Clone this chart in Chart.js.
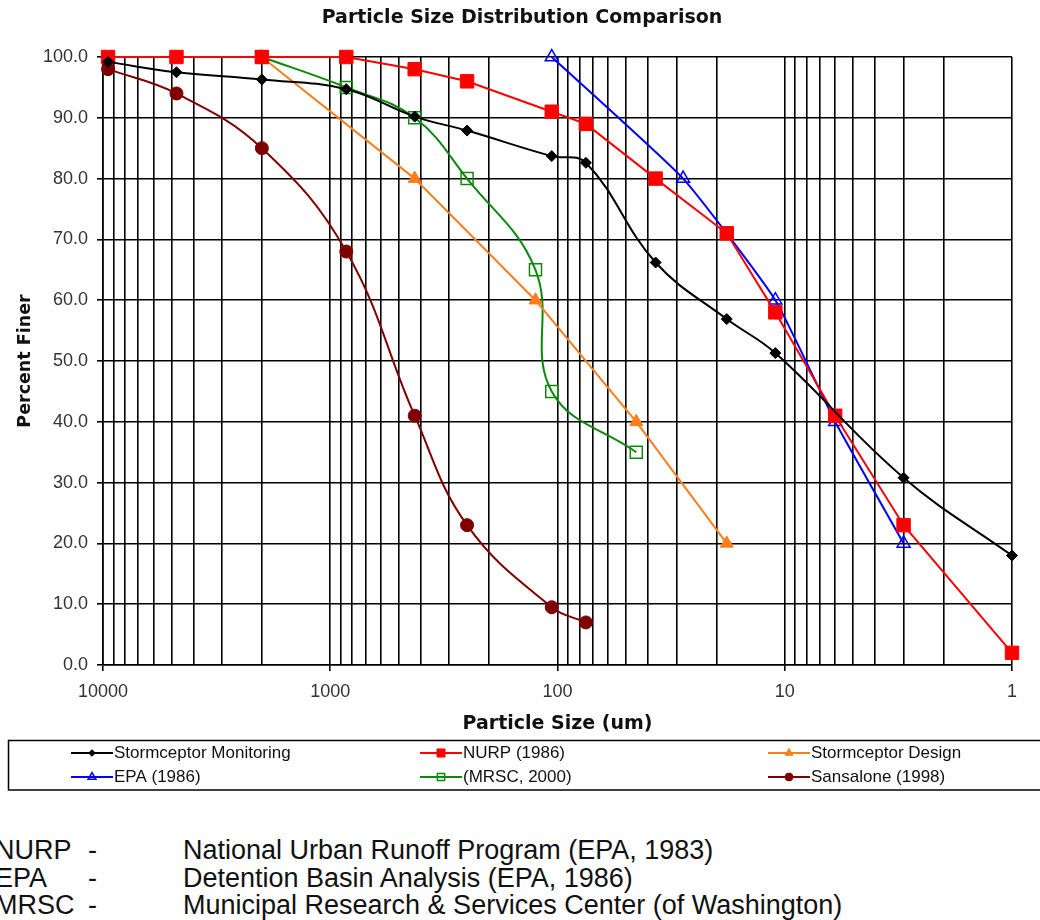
<!DOCTYPE html>
<html>
<head>
<meta charset="utf-8">
<script src="https://cdn.jsdelivr.net/npm/chart.js@4.4.1/dist/chart.umd.min.js"></script>
<style>
  body { margin: 0; background: #fff; width: 1040px; height: 920px; overflow: hidden; position: relative; }
  #chart { position: absolute; left: 0; top: 0; }
  .notes { position: absolute; left: 0; top: 837px; font-family: "Liberation Sans", Arial, sans-serif; font-size: 27px; color: #111; }
  .notes div { position: relative; height: 27.5px; line-height: 27.5px; white-space: nowrap; width: 1040px; }
  .notes span { position: absolute; top: 0; }
</style>
</head>
<body>
<canvas id="chart" width="1040" height="800"></canvas>
<div class="notes" id="notes"></div>
<script>
const chartTitle = 'Particle Size Distribution Comparison';
const sizeLabels = [10000, 1000, 100, 10, 1];

// particle size (um) and percent finer, per source
const monitoringSize = [9500, 4750, 2000, 850, 425, 250, 106, 75, 37, 18, 11, 3, 1];
const monitoringFiner = [99.2, 97.5, 96.3, 94.7, 90.2, 87.9, 83.7, 82.6, 66.2, 56.9, 51.3, 30.8, 18.0];

const nurpSize = [9500, 4750, 2000, 850, 425, 250, 106, 75, 37, 18, 11, 6, 3, 1];
const nurpFiner = [100, 100, 100, 100, 98, 96, 91, 89, 80, 71, 58, 41, 23, 2];

const designSize = [2000, 425, 125, 45, 18];
const designFiner = [100, 80, 60, 40, 20];

const epaSize = [106, 28, 11, 6, 3];
const epaFiner = [100, 80, 60, 40, 20];

const mrscSize = [2000, 850, 425, 250, 125, 106, 45];
const mrscFiner = [100, 95, 90, 80, 65, 45, 35];

const sansaloneSize = [9500, 4750, 2000, 850, 425, 250, 106, 75];
const sansaloneFiner = [98, 94, 85, 68, 41, 23, 9.5, 7];

const noteAbbr = ['NURP', 'EPA', 'MRSC'];
const noteText = ['National Urban Runoff Program (EPA, 1983)', 'Detention Basin Analysis (EPA, 1986)', 'Municipal Research & Services Center (of Washington)'];

// grid lines at 1..9 x each decade
const gridValues = [];
for (let d = 1; d < 10000; d *= 10) {
  for (let m = 1; m < 10; m++) gridValues.push(m * d);
}
gridValues.push(10000);

function series(label, xs, ys, style) {
  return Object.assign({ label: label, data: xs.map((x, i) => ({ x: x, y: ys[i] })) }, style);
}

const datasets = [
  series('Stormceptor Monitoring', monitoringSize, monitoringFiner, {
    borderColor: '#000', pointBackgroundColor: '#000', pointBorderColor: '#000',
    pointStyle: 'rectRot', pointRadius: 5.5, pointBorderWidth: 1, tension: 0.4 }),
  series('NURP (1986)', nurpSize, nurpFiner, {
    borderColor: '#ff0000', pointBackgroundColor: '#ff0000', pointBorderColor: '#ff0000',
    pointStyle: 'rect', pointRadius: 9.5, pointBorderWidth: 1, tension: 0 }),
  series('Stormceptor Design', designSize, designFiner, {
    borderColor: '#ff7d1a', pointBackgroundColor: '#ff7d1a', pointBorderColor: '#ff7d1a',
    pointStyle: 'triangle', pointRadius: 7.5, pointBorderWidth: 1, tension: 0 }),
  series('EPA (1986)', epaSize, epaFiner, {
    borderColor: '#0000ff', pointBackgroundColor: 'rgba(0,0,0,0)', pointBorderColor: '#0000ff',
    pointStyle: 'triangle', pointRadius: 7.5, pointBorderWidth: 1.5, tension: 0.15 }),
  series('(MRSC, 2000)', mrscSize, mrscFiner, {
    borderColor: '#0a8a0a', pointBackgroundColor: 'rgba(0,0,0,0)', pointBorderColor: '#0a8a0a',
    pointStyle: 'rect', pointRadius: 8.5, pointBorderWidth: 1.5, tension: 0.4 }),
  series('Sansalone (1998)', sansaloneSize, sansaloneFiner, {
    borderColor: '#800000', pointBackgroundColor: '#800000', pointBorderColor: '#800000',
    pointStyle: 'circle', pointRadius: 6.5, pointBorderWidth: 1, tension: 0.4 })
];

const decorations = {
  id: 'decorations',
  afterDraw(chart) {
    const ctx = chart.ctx;
    ctx.save();
    ctx.font = 'bold 19px "DejaVu Sans"';
    ctx.fillStyle = '#111';
    ctx.textAlign = 'center';
    ctx.textBaseline = 'middle';
    ctx.fillText(chartTitle, 522, 18);

    // legend box, 3 columns x 2 rows
    ctx.strokeStyle = '#000';
    ctx.lineWidth = 1.5;
    ctx.strokeRect(8.5, 740.5, 1040, 49.5);
    ctx.font = '17px "Liberation Sans"';
    ctx.textAlign = 'left';
    chart.data.datasets.forEach((ds, i) => {
      const x = [71, 420, 768][i % 3];
      const y = [753, 777][Math.floor(i / 3)];
      ctx.strokeStyle = ds.borderColor;
      ctx.lineWidth = 2;
      ctx.beginPath();
      ctx.moveTo(x, y);
      ctx.lineTo(x + 42, y);
      ctx.stroke();
      ctx.fillStyle = ds.pointBackgroundColor;
      ctx.strokeStyle = ds.pointBorderColor;
      ctx.lineWidth = ds.pointBorderWidth;
      Chart.helpers.drawPoint(ctx, { pointStyle: ds.pointStyle, radius: ds.pointRadius * 0.6, borderWidth: ds.pointBorderWidth, rotation: 0 }, x + 21, y);
      ctx.fillStyle = '#111';
      ctx.fillText(ds.label, x + 43, y);
    });
    ctx.restore();
  }
};

new Chart(document.getElementById('chart'), {
  type: 'line',
  data: { datasets: datasets },
  plugins: [decorations],
  options: {
    responsive: false,
    animation: false,
    layout: { padding: { top: 57, left: 0, right: 28, bottom: 65 } },
    datasets: { line: { borderWidth: 2, clip: false, fill: false } },
    plugins: {
      legend: { display: false },
      tooltip: { enabled: false },
      title: { display: false }
    },
    scales: {
      x: {
        type: 'logarithmic',
        reverse: true,
        min: 1,
        max: 10000,
        afterFit(scale) { scale.height = 70; },
        afterBuildTicks(scale) {
          scale.ticks = gridValues.map(v => ({ value: v, major: sizeLabels.includes(v) }));
        },
        ticks: {
          autoSkip: false,
          maxRotation: 0,
          padding: 10,
          color: '#333',
          font: { family: 'Liberation Sans', size: 18 },
          callback: (value) => sizeLabels.includes(value) ? String(value) : ''
        },
        grid: {
          color: '#000',
          lineWidth: 1.6,
          tickLength: 6,
          tickColor: (c) => (c.tick && sizeLabels.includes(c.tick.value)) ? '#000' : 'rgba(0,0,0,0)'
        },
        border: { color: '#000', width: 1.6 },
        title: {
          display: true,
          text: 'Particle Size (um)',
          color: '#111',
          font: { family: 'DejaVu Sans', size: 19, weight: 'bold' },
          padding: { top: 0, bottom: 0 }
        }
      },
      y: {
        min: 0,
        max: 100,
        afterFit(scale) { scale.width = 103; },
        ticks: {
          stepSize: 10,
          padding: 9,
          color: '#333',
          font: { family: 'Liberation Sans', size: 18 },
          callback: (value) => value.toFixed(1)
        },
        grid: { color: '#000', lineWidth: 1.6, tickLength: 6 },
        border: { color: '#000', width: 1.6 },
        title: {
          display: true,
          text: 'Percent Finer',
          color: '#111',
          font: { family: 'DejaVu Sans', size: 17.5, weight: 'bold' },
          padding: { top: 15, bottom: 0 }
        }
      }
    }
  }
});

const notes = document.getElementById('notes');
noteAbbr.forEach((abbr, i) => {
  const row = document.createElement('div');
  row.innerHTML = '<span style="left:-5px"></span><span style="left:88px">-</span><span style="left:183px"></span>';
  row.children[0].textContent = abbr;
  row.children[2].textContent = noteText[i];
  notes.appendChild(row);
});
</script>
</body>
</html>
